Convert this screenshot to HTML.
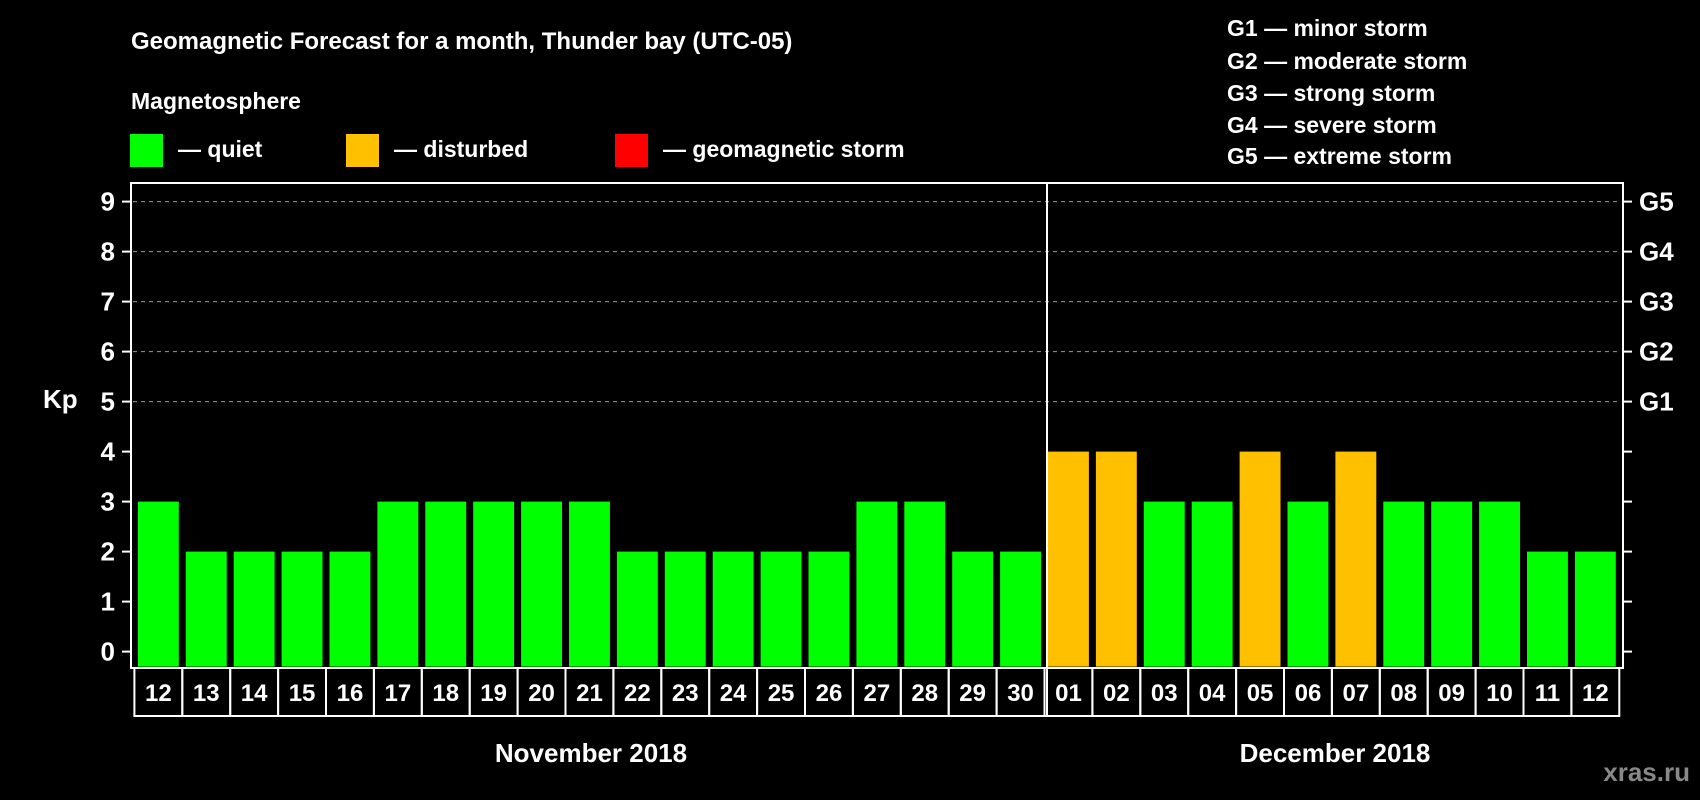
<!DOCTYPE html>
<html><head><meta charset="utf-8"><style>
html,body{margin:0;padding:0;background:#000;}
svg{display:block;font-family:"Liberation Sans",Arial,sans-serif;font-weight:bold;}
</style></head><body>
<svg id="chart" width="1700" height="800" xmlns="http://www.w3.org/2000/svg">
<rect width="1700" height="800" fill="#000"/>
<text x="131" y="49" fill="#fff" font-size="24">Geomagnetic Forecast for a month, Thunder bay (UTC-05)</text>
<text x="131" y="109" fill="#fff" font-size="23">Magnetosphere</text>
<g><rect x="130" y="134" width="33" height="33" fill="#00ff00"/><text x="178" y="157" fill="#fff" font-size="23">— quiet</text></g>
<g><rect x="346" y="134" width="33" height="33" fill="#ffc000"/><text x="394" y="157" fill="#fff" font-size="23">— disturbed</text></g>
<g><rect x="615" y="134" width="33" height="33" fill="#ff0000"/><text x="663" y="157" fill="#fff" font-size="23">— geomagnetic storm</text></g>
<g fill="#fff" font-size="23">
<text x="1227" y="36">G1 — minor storm</text>
<text x="1227" y="69">G2 — moderate storm</text>
<text x="1227" y="101">G3 — strong storm</text>
<text x="1227" y="133">G4 — severe storm</text>
<text x="1227" y="164">G5 — extreme storm</text>
</g>
<text x="43" y="408" fill="#fff" font-size="26">Kp</text>
<g id="grid"></g>
<g id="bars"></g>
<rect x="131" y="183" width="1492" height="485" fill="none" stroke="#fff" stroke-width="2"/>
<line x1="1047" y1="183" x2="1047" y2="716" stroke="#fff" stroke-width="2"/>
<g id="ticks"></g>
<g id="xlabels"></g>
<text x="591" y="762" fill="#fff" font-size="26" text-anchor="middle">November 2018</text>
<text x="1335" y="762" fill="#fff" font-size="26" text-anchor="middle">December 2018</text>
<text x="1690" y="781" fill="#888" font-size="26" text-anchor="end">xras.ru</text>
</svg>
<script>
const days = ["12","13","14","15","16","17","18","19","20","21","22","23","24","25","26","27","28","29","30","01","02","03","04","05","06","07","08","09","10","11","12"];
const kpValues = [3,2,2,2,2,3,3,3,3,3,2,2,2,2,2,3,3,2,2,4,4,3,3,4,3,4,3,3,3,2,2];
const yTicks = [0,1,2,3,4,5,6,7,8,9];
const gLabels = ["G1","G2","G3","G4","G5"];
const NS="http://www.w3.org/2000/svg";
const x0=134.4, slot=47.9, y0=651.6, unit=50;
const xs=i=>x0+i*slot;
const ys=v=>y0-v*unit;
function mk(t,a,p){const e=document.createElementNS(NS,t);for(const k in a)e.setAttribute(k,a[k]);p.appendChild(e);return e;}
const grid=document.getElementById('grid'),bars=document.getElementById('bars'),ticks=document.getElementById('ticks'),xl=document.getElementById('xlabels');
yTicks.forEach(v=>{
  const y=ys(v);
  if(v>=5){const g=mk('line',{x1:133,x2:1621,y1:y,y2:y,stroke:'#999','stroke-dasharray':'4,4','stroke-width':1},grid);
  
  }
  const l=mk('line',{x1:122,x2:131,y1:y,y2:y,stroke:'#fff','stroke-width':2},ticks);
  
  
  const r=mk('line',{x1:1623,x2:1632,y1:y,y2:y,stroke:'#fff','stroke-width':2},ticks);
  
  
  const t=mk('text',{x:115,y:y+9,fill:'#fff','font-size':26,'text-anchor':'end'},ticks);
  t.textContent=v;
  
  
});
gLabels.forEach((g,i)=>{
  const t=mk('text',{x:1639,y:ys(5+i)+9,fill:'#fff','font-size':26},ticks);
  t.textContent=g;
  
  
});
kpValues.forEach((v,i)=>{
  const c=v>=5?'#ff0000':(v>=4?'#ffc000':'#00ff00');
  const b=mk('rect',{x:xs(i)+3.5,y:ys(v),width:slot-7,height:y0-ys(v)+15,fill:c},bars);
  
  
  const bx=mk('rect',{x:xs(i),y:668,width:slot,height:48,fill:'none',stroke:'#fff','stroke-width':2},xl);
  
  
  const t=mk('text',{x:xs(i)+slot/2,y:701,fill:'#fff','font-size':24,'text-anchor':'middle'},xl);
  t.textContent=days[i];
  
  
});
</script>
</body></html>
